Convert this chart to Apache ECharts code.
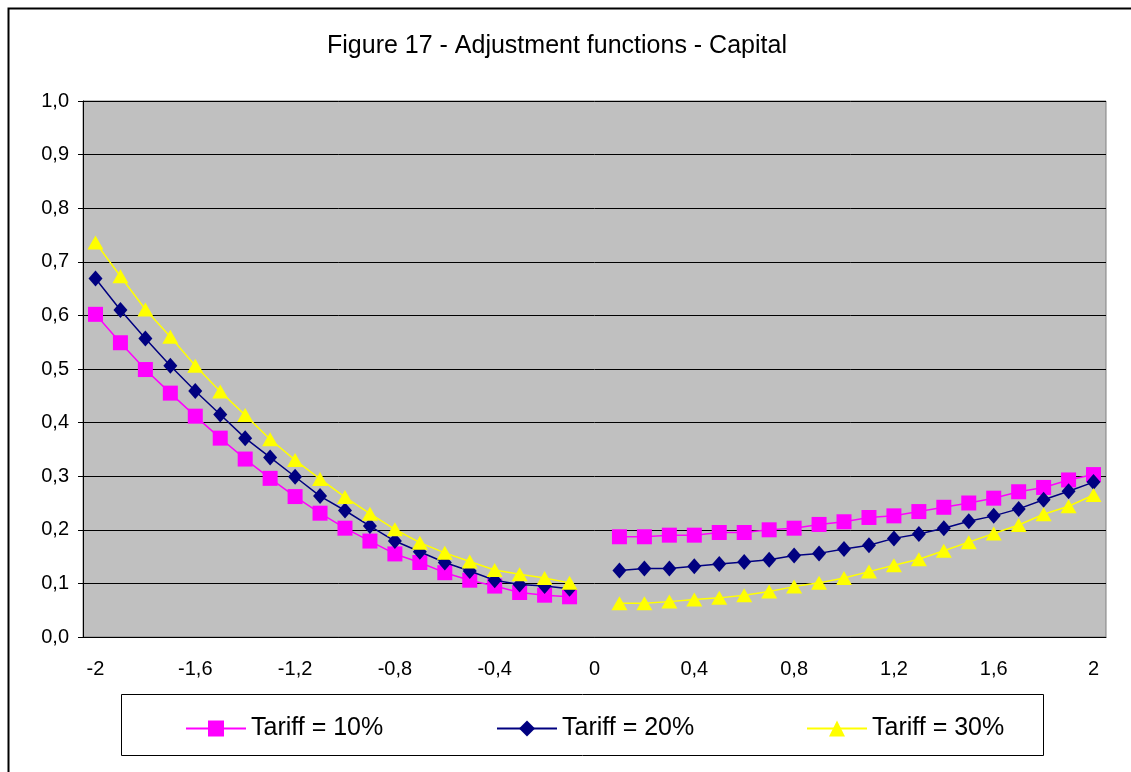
<!DOCTYPE html>
<html>
<head>
<meta charset="utf-8">
<script src="https://cdn.jsdelivr.net/npm/echarts@6/dist/echarts.min.js"></script>
<style>
  html, body { margin: 0; padding: 0; background: #fff; }
  #chart { width: 1131px; height: 772px; }
</style>
</head>
<body>
<div id="chart"></div>
<script>
// x categories: -2 .. 2 step 0.1 (0 has no data)
const xValues = [
  '-2', '-1.9', '-1.8', '-1.7', '-1.6', '-1.5', '-1.4', '-1.3', '-1.2', '-1.1',
  '-1', '-0.9', '-0.8', '-0.7', '-0.6', '-0.5', '-0.4', '-0.3', '-0.2', '-0.1',
  '0',
  '0.1', '0.2', '0.3', '0.4', '0.5', '0.6', '0.7', '0.8', '0.9', '1',
  '1.1', '1.2', '1.3', '1.4', '1.5', '1.6', '1.7', '1.8', '1.9', '2'
]

const tariff10 = [
  0.602, 0.549, 0.499, 0.455, 0.412, 0.371, 0.332, 0.296, 0.262, 0.231,
  0.203, 0.179, 0.155, 0.139, 0.120, 0.106, 0.095, 0.083, 0.078, 0.075,
  null,
  0.187, 0.187, 0.190, 0.190, 0.195, 0.195, 0.200, 0.203, 0.210, 0.215,
  0.223, 0.226, 0.234, 0.242, 0.250, 0.259, 0.271, 0.279, 0.293, 0.303
]

const tariff20 = [
  0.669, 0.610, 0.557, 0.506, 0.459, 0.415, 0.371, 0.335, 0.299, 0.263,
  0.236, 0.207, 0.179, 0.159, 0.139, 0.123, 0.106, 0.098, 0.095, 0.090,
  null,
  0.124, 0.128, 0.128, 0.132, 0.136, 0.140, 0.144, 0.152, 0.156, 0.164,
  0.171, 0.184, 0.192, 0.203, 0.216, 0.226, 0.239, 0.256, 0.272, 0.289
]

const tariff30 = [
  0.736, 0.673, 0.611, 0.560, 0.506, 0.458, 0.414, 0.369, 0.330, 0.295,
  0.261, 0.230, 0.201, 0.176, 0.157, 0.141, 0.125, 0.117, 0.110, 0.101,
  null,
  0.063, 0.063, 0.066, 0.070, 0.073, 0.078, 0.085, 0.094, 0.101, 0.110,
  0.122, 0.134, 0.145, 0.161, 0.177, 0.193, 0.209, 0.229, 0.244, 0.265
]

const seriesNames = ['Tariff = 10%', 'Tariff = 20%', 'Tariff = 30%']

const FONT = '"Liberation Sans", Arial, sans-serif'

function comma(v) {
  return String(v).replace('.', ',')
}

const chart = echarts.init(document.getElementById('chart'), null, { renderer: 'canvas' })

function legendAt(name, left) {
  return {
    data: [name],
    left: left,
    top: 711,
    itemWidth: 60,
    itemHeight: 20,
    textStyle: { fontFamily: FONT, fontSize: 25, color: '#000' },
    selectedMode: false
  }
}

chart.setOption({
  animation: false,
  backgroundColor: '#fff',
  title: {
    text: 'Figure 17 - Adjustment functions - Capital',
    left: 322,
    top: 29,
    textStyle: { fontFamily: FONT, fontSize: 25, fontWeight: 'normal', color: '#000' }
  },
  graphic: [
    {
      type: 'rect', left: 6, top: 6, silent: true,
      shape: { width: 1140, height: 790 },
      style: { fill: 'none', stroke: '#000', lineWidth: 2 }
    },
    {
      type: 'rect', left: 121, top: 694, silent: true,
      shape: { width: 922, height: 61 },
      style: { fill: '#fff', stroke: '#000', lineWidth: 1 },
      z: -1
    }
  ],
  legend: [
    legendAt(seriesNames[0], 180),
    legendAt(seriesNames[1], 491),
    legendAt(seriesNames[2], 801)
  ],
  grid: { left: 83, right: 25, top: 101, bottom: 135, backgroundColor: '#c0c0c0', show: true, borderColor: '#808080', borderWidth: 1 },
  xAxis: {
    type: 'category',
    data: xValues,
    boundaryGap: true,
    axisLine: { lineStyle: { color: '#000', width: 1 } },
    axisTick: { interval: 0, length: 5, lineStyle: { color: '#000' } },
    axisLabel: {
      interval: 3,
      margin: 22,
      fontFamily: FONT,
      fontSize: 20,
      color: '#000',
      formatter: comma
    },
    splitLine: { show: false }
  },
  yAxis: {
    type: 'value',
    min: 0,
    max: 1,
    interval: 0.1,
    axisLine: { show: true, lineStyle: { color: '#000', width: 1 } },
    axisTick: { show: true, length: 5, lineStyle: { color: '#000' } },
    axisLabel: {
      margin: 14,
      fontFamily: FONT,
      fontSize: 20,
      color: '#000',
      formatter: function (v) { return v.toFixed(1).replace('.', ',') }
    },
    splitLine: { lineStyle: { color: '#000', width: 1 } }
  },
  series: [
    {
      name: seriesNames[0], type: 'line', data: tariff10,
      symbol: 'rect', symbolSize: 15,
      lineStyle: { color: '#ff00ff', width: 1.5 },
      itemStyle: { color: '#ff00ff' },
      z: 2
    },
    {
      name: seriesNames[1], type: 'line', data: tariff20,
      symbol: 'diamond', symbolSize: [14, 16],
      lineStyle: { color: '#000080', width: 1.5 },
      itemStyle: { color: '#000080' },
      z: 3
    },
    {
      name: seriesNames[2], type: 'line', data: tariff30,
      symbol: 'triangle', symbolSize: [16, 14],
      lineStyle: { color: '#ffff00', width: 1.5 },
      itemStyle: { color: '#ffff00' },
      z: 4
    }
  ]
})
</script>
</body>
</html>
